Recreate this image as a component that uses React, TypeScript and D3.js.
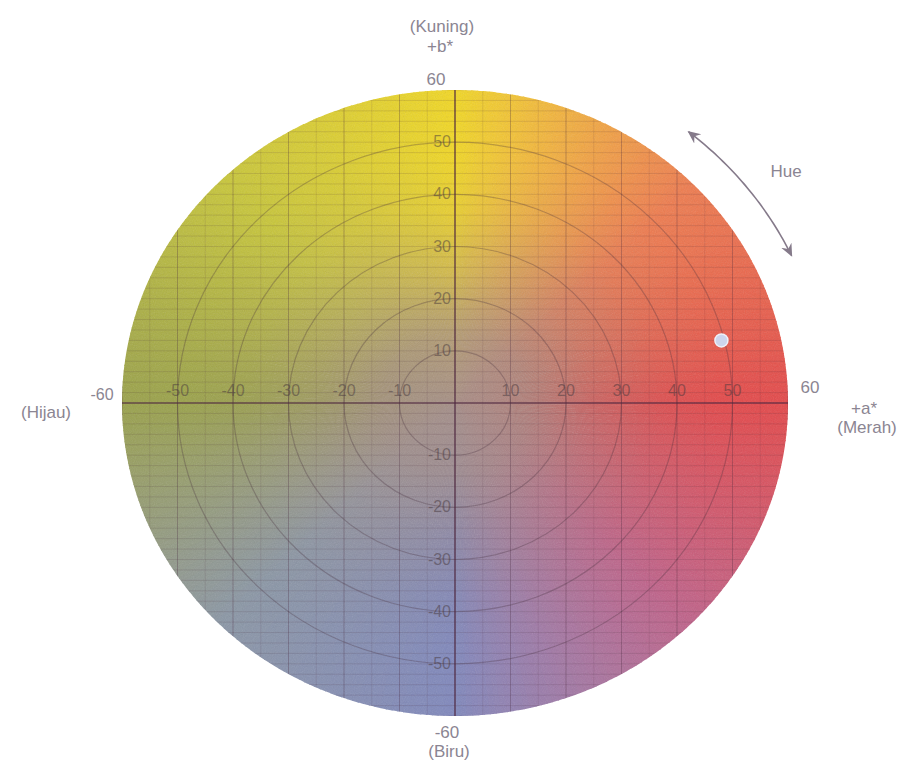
import React from 'react';
import * as d3 from 'd3';

// CIELAB a*/b* diagram values
const axisLimit = 60;
const axisTicks = [-50, -40, -30, -20, -10, 10, 20, 30, 40, 50];
const ringLevels = [10, 20, 30, 40, 50];
const hueStops = [0, 45, 90, 135, 180, 225, 270, 315, 360];
const hueColors = ['#e4484a', '#ef7d4f', '#f2d824', '#c8c63a', '#9aa24a', '#8b97a6', '#8088bd', '#c0628a', '#e4484a'];
const samplePoints = [{ a: 48, b: 12 }];
const hueArrowRange = [51, 25];

const W = 917;
const H = 767;
const cx = 455;
const cy = 403;
const rx = 333;
const ry = 313;

const FONT = '"Liberation Sans", Arial, sans-serif';
const LABEL = '#8b8592';

const App: React.FC = () => {
  const x = d3.scaleLinear().domain([-axisLimit, axisLimit]).range([cx - rx, cx + rx]);
  const y = d3.scaleLinear().domain([-axisLimit, axisLimit]).range([cy + ry, cy - ry]);
  const hueColor = d3.scaleLinear<string>().domain(hueStops).range(hueColors).interpolate(d3.interpolateLab);

  // colour wheel wedges, one per degree of hue
  const arc = d3.arc<number>()
    .innerRadius(0)
    .outerRadius(rx)
    .startAngle(h => Math.PI / 2 - ((h + 1.2) * Math.PI) / 180)
    .endAngle(h => Math.PI / 2 - (h * Math.PI) / 180);
  const wedges = d3.range(0, 360, 1);

  const hLines = d3.range(-axisLimit, axisLimit + 0.1, 2);
  const vLines = d3.range(-axisLimit, axisLimit + 0.1, 5);
  const majorLines = d3.range(-axisLimit, axisLimit + 0.1, 10);

  // hue arrow outside the wheel
  const k = 1.115;
  const arrowPts = d3.range(hueArrowRange[0], hueArrowRange[1] - 0.1, -1).map(deg => {
    const t = (deg * Math.PI) / 180;
    return [cx + rx * k * Math.cos(t), cy - ry * k * Math.sin(t)] as [number, number];
  });
  const arrowPath = d3.line().curve(d3.curveBasis)(arrowPts) || '';

  const tickFill = 'rgba(70, 55, 60, 0.5)';

  return (
    <svg width={W} height={H} style={{ position: 'absolute', left: 0, top: 0, background: '#fff' }}>
      <defs>
        <radialGradient id="centerFade" cx="50%" cy="50%" r="50%">
          <stop offset="0%" stopColor="#a38b84" stopOpacity={0.95} />
          <stop offset="22%" stopColor="#a38b84" stopOpacity={0.78} />
          <stop offset="42%" stopColor="#a38b84" stopOpacity={0.38} />
          <stop offset="62%" stopColor="#a38b84" stopOpacity={0.1} />
          <stop offset="80%" stopColor="#a38b84" stopOpacity={0} />
        </radialGradient>
        <clipPath id="wheelClip">
          <ellipse cx={cx} cy={cy} rx={rx} ry={ry} />
        </clipPath>
        <filter id="grain" x="0" y="0" width="100%" height="100%">
          <feTurbulence type="fractalNoise" baseFrequency="0.9" numOctaves={2} seed={4} />
          <feColorMatrix type="saturate" values="0" />
        </filter>
        <marker id="arrowHead" viewBox="0 0 10 10" refX="8" refY="5" markerWidth="9" markerHeight="9" orient="auto-start-reverse">
          <path d="M0,1 L9,5 L0,9 L3,5 Z" fill="#857a8a" />
        </marker>
      </defs>

      {/* wheel */}
      <g transform={`translate(${cx},${cy}) scale(1,${ry / rx})`}>
        {wedges.map(h => (
          <path key={h} d={arc(h) || ''} fill={hueColor(h + 0.5)} />
        ))}
        <circle r={rx} fill="url(#centerFade)" />
      </g>

      <g clipPath="url(#wheelClip)">
        <rect x={cx - rx} y={cy - ry} width={rx * 2} height={ry * 2} filter="url(#grain)" opacity={0.18} />
        {hLines.map(v => (
          <line key={'h' + v} x1={cx - rx} x2={cx + rx} y1={y(v)} y2={y(v)} stroke="rgba(70,40,60,0.18)" strokeWidth={0.8} />
        ))}
        {vLines.map(v => (
          <line key={'v' + v} x1={x(v)} x2={x(v)} y1={cy - ry} y2={cy + ry} stroke="rgba(70,40,60,0.14)" strokeWidth={0.8} />
        ))}
        {majorLines.map(v => (
          <line key={'m' + v} x1={x(v)} x2={x(v)} y1={cy - ry} y2={cy + ry} stroke="rgba(70,40,60,0.2)" strokeWidth={1} />
        ))}
        {ringLevels.map(r => (
          <ellipse key={'r' + r} cx={cx} cy={cy} rx={x(r) - cx} ry={cy - y(r)} fill="none" stroke="rgba(70,45,60,0.3)" strokeWidth={1.2} />
        ))}
        <line x1={cx - rx} x2={cx + rx} y1={cy} y2={cy} stroke="rgba(80,40,65,0.7)" strokeWidth={1.6} />
        <line x1={cx} x2={cx} y1={cy - ry} y2={cy + ry} stroke="rgba(80,40,65,0.65)" strokeWidth={1.6} />
      </g>

      {/* inner tick labels */}
      <g fontFamily={FONT} fontSize={16} fill={tickFill}>
        {axisTicks.map(v => (
          <text key={'tx' + v} x={x(v)} y={cy - 7} textAnchor="middle">{v}</text>
        ))}
        {axisTicks.map(v => (
          <text key={'ty' + v} x={cx - 4} y={y(v) + 5} textAnchor="end">{v}</text>
        ))}
      </g>

      {/* sample point */}
      {samplePoints.map((p, i) => (
        <circle key={i} cx={x(p.a)} cy={y(p.b)} r={6.5} fill="#cdd5ec" stroke="#eef0f8" strokeWidth={1.5} />
      ))}

      {/* axis end labels */}
      <g fontFamily={FONT} fontSize={17} fill={LABEL}>
        <text x={442} y={32} textAnchor="middle">(Kuning)</text>
        <text x={440} y={52} textAnchor="middle">+b*</text>
        <text x={436} y={85} textAnchor="middle">60</text>

        <text x={447} y={738} textAnchor="middle">-60</text>
        <text x={449} y={757} textAnchor="middle">(Biru)</text>

        <text x={46} y={418} textAnchor="middle">(Hijau)</text>
        <text x={102} y={400} textAnchor="middle" fontSize={16}>-60</text>

        <text x={810} y={393} textAnchor="middle">60</text>
        <text x={864} y={414} textAnchor="middle">+a*</text>
        <text x={867} y={433} textAnchor="middle">(Merah)</text>

        <text x={786} y={177} textAnchor="middle">Hue</text>
      </g>

      <path d={arrowPath} fill="none" stroke="#857a8a" strokeWidth={1.6} markerStart="url(#arrowHead)" markerEnd="url(#arrowHead)" />
    </svg>
  );
};

export default App;
